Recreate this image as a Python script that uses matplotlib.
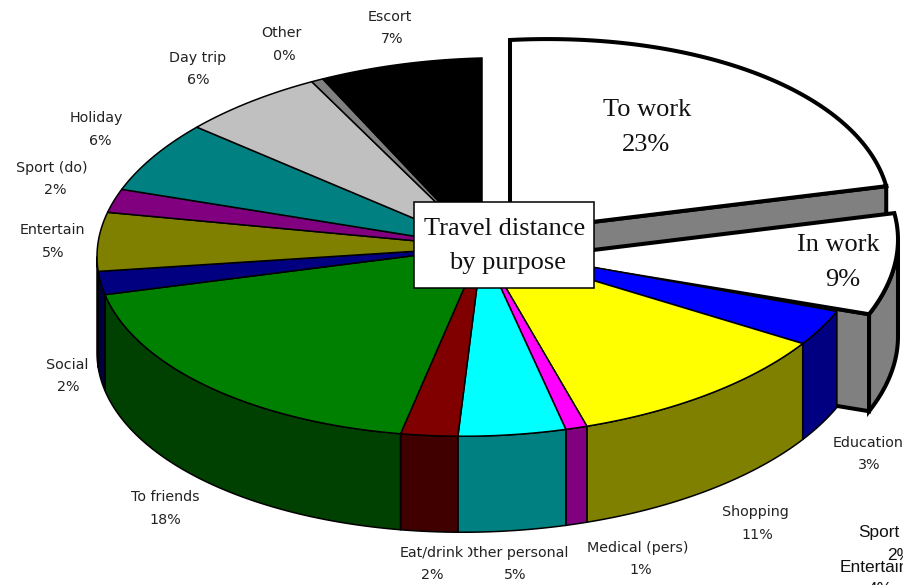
"""Travel distance by purpose -- old spreadsheet style exploded 3D pie, drawn in pixel coords."""
import matplotlib

matplotlib.use("Agg")
import matplotlib.pyplot as plt
import numpy as np

PURPOSES = ["To work", "In work", "Education", "Shopping", "Medical (pers)", "Other personal",
            "Eat/drink", "To friends", "Social", "Entertain", "Sport (do)", "Holiday",
            "Day trip", "Other", "Escort"]
SHARES = [22.8, 8.6, 3, 11.3, 0.9, 4.5, 2.4, 18.4, 2, 5, 2, 6, 6, 0.5, 6.8]
SHARE_LABELS = ["23%", "9%", "3%", "11%", "1%", "5%", "2%", "18%", "2%", "5%", "2%", "6%", "6%", "0%", "7%"]

TOP_COLORS = ["#FFFFFF", "#FFFFFF", "#0000FF", "#FFFF00", "#FF00FF", "#00FFFF", "#800000", "#008000",
              "#000080", "#808000", "#800080", "#008080", "#C0C0C0", "#808080", "#000000"]
WALL_COLORS = ["#808080", "#808080", "#000080", "#808000", "#800080", "#008080", "#400000", "#004000",
               "#000040", "#404000", "#400040", "#004040", "#606060", "#404040", "#000000"]

# where the small labels sit: (name x, name y, share x, share y)
LABEL_POS = {
    "Education": (868, 443, 869, 465), "Shopping": (755, 512, 757, 535),
    "Medical (pers)": (638, 548, 641, 570), "Other personal": (515, 553, 515, 575),
    "Eat/drink": (432, 553, 432, 575), "To friends": (165, 497, 165, 520),
    "Social": (67, 365, 68, 387), "Entertain": (52, 230, 53, 253),
    "Sport (do)": (52, 168, 55, 190), "Holiday": (96, 118, 100, 141),
    "Day trip": (198, 58, 198, 80), "Other": (281, 33, 284, 56), "Escort": (390, 17, 392, 39),
}

CX, CY, RX, RY, DEPTH = 482, 247, 385, 189, 96
SKEW = -0.025  # the pie leans a little, right side up and left side down
THICK, THIN = 2.9, 1.1


def arc(t0, t1, cx, cy, rx, ry, skew):
    t = np.radians(np.arange(t0, t1, 1.0).tolist() + [t1])
    return cx + rx * np.sin(t), cy - ry * np.cos(t) + skew * rx * np.sin(t)


def face(ax, t0, t1, color, cx=CX, cy=CY, rx=RX, ry=RY, skew=SKEW, lw=THIN):
    x, y = arc(t0, t1, cx, cy, rx, ry, skew)
    ax.fill(np.r_[cx, x], np.r_[cy, y], fc=color, ec="black", lw=lw, joinstyle="miter")


def wall(ax, t0, t1, color, cx=CX, cy=CY, rx=RX, ry=RY, skew=SKEW, lw=THIN, depth=DEPTH):
    t0, t1 = max(t0, 90), min(t1, 270)
    if t1 <= t0:
        return
    x, y = arc(t0, t1, cx, cy, rx, ry, skew)
    ax.fill(np.r_[x, x[::-1]], np.r_[y, y[::-1] + depth], fc=color, ec="black", lw=lw, joinstyle="miter")


def radial_wall(ax, t, color, cx, cy, rx, ry, skew, depth):
    x, y = arc(t, t, cx, cy, rx, ry, skew)
    ax.fill([cx, x[-1], x[-1], cx], [cy, y[-1], y[-1] + depth, cy + depth],
            fc=color, ec="black", lw=THICK, joinstyle="miter")


def main():
    fig = plt.figure(figsize=(9.04, 5.85), dpi=100)
    ax = fig.add_axes([0, 0, 1, 1])
    ax.set_xlim(0, 904)
    ax.set_ylim(585, 0)
    ax.axis("off")

    edges = np.r_[0, np.cumsum(SHARES)] / sum(SHARES) * 360

    # the two pulled-out slices go in first, the rest of the pie covers their walls
    work = dict(cx=510, cy=232, rx=380, ry=192, skew=-0.05)
    inwork = dict(cx=528, cy=258, rx=370, ry=189, skew=-0.05)
    radial_wall(ax, edges[1], WALL_COLORS[0], depth=92, **work)
    face(ax, edges[0], edges[1], TOP_COLORS[0], lw=THICK, **work)
    radial_wall(ax, edges[2], WALL_COLORS[1], depth=97, **inwork)
    wall(ax, edges[1], edges[2], WALL_COLORS[1], lw=THICK, depth=97, **inwork)
    face(ax, edges[1], edges[2], TOP_COLORS[1], lw=THICK, **inwork)

    for i in range(2, len(SHARES)):
        wall(ax, edges[i], edges[i + 1], WALL_COLORS[i])
    for i in range(2, len(SHARES)):
        face(ax, edges[i], edges[i + 1], TOP_COLORS[i])

    # chart title box in the middle
    ax.fill([414, 594, 594, 414], [202, 202, 288, 288], fc="white", ec="black", lw=THIN, zorder=5)
    serif = dict(family="Liberation Serif", fontsize=19, ha="center", va="center", color="#111111", zorder=6)
    ax.text(505, 229, "Travel distance", **serif)
    ax.text(508, 263, "by purpose", **serif)
    ax.text(647, 110, PURPOSES[0], **serif)
    ax.text(646, 145, SHARE_LABELS[0], **serif)
    ax.text(838, 245, PURPOSES[1], **serif)
    ax.text(843, 280, SHARE_LABELS[1], **serif)

    small = dict(family="DejaVu Sans", fontsize=10.3, ha="center", va="center", color="#222222", zorder=6)
    for name, pct in zip(PURPOSES[2:], SHARE_LABELS[2:]):
        nx, ny, px, py = LABEL_POS[name]
        box = dict(fc="white", ec="none", pad=3) if name == "Eat/drink" else None
        ax.text(nx, ny, name, bbox=box, zorder=7 if box else 6,
                **{k: v for k, v in small.items() if k != "zorder"})
        ax.text(px, py, pct, **small)

    # stray labels running off the bottom right corner of the original
    stray = dict(family="Liberation Sans", fontsize=12.4, ha="left", va="center", color="#111111")
    ax.text(858, 532, "Sport", **stray)
    ax.text(840, 567, "Entertain", **stray)
    ax.text(887, 555, "2%", bbox=dict(fc="white", ec="none", pad=0.5), **stray)
    ax.text(868, 590, "4%", **stray)

    fig.savefig("out.png", dpi=100)


if __name__ == "__main__":
    main()
